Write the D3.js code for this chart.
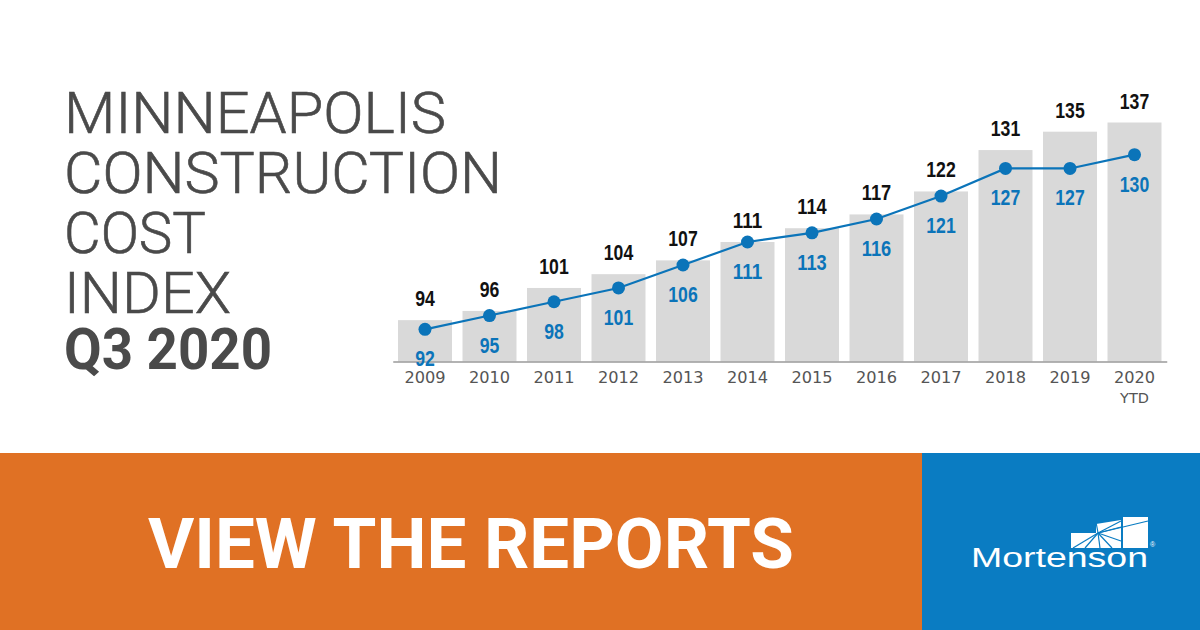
<!DOCTYPE html>
<html><head><meta charset="utf-8">
<script src="https://cdn.jsdelivr.net/npm/d3@7"></script>
<style>
html,body{margin:0;padding:0;background:#fff;}
svg{display:block;}
</style></head>
<body>
<svg id="c" width="1200" height="630"></svg>
<script>
// ---- data ----
const years = ["2009","2010","2011","2012","2013","2014","2015","2016","2017","2018","2019","2020"];
const yearNotes = ["","","","","","","","","","","","YTD"];
const barValues = [94,96,101,104,107,111,114,117,122,131,135,137];
const lineValues = [92,95,98,101,106,111,113,116,121,127,127,130];
const titleLines = ["MINNEAPOLIS","CONSTRUCTION","COST","INDEX"];
const subtitle = "Q3 2020";
const ctaText = "VIEW THE REPORTS";
const brand = "Mortenson";

const svg = d3.select("#c");
const TITLE = "#4a4a4a", BAR = "#d9d9d9", BLUE = "#0b74b9", ORANGE = "#e07124", BRAND_BLUE = "#0a7cc2";

// ---- title ----
const titleWidths = [382, 438, 142, 167];
const tg = svg.append("g");
titleLines.forEach((t,i)=>{
  tg.append("text").attr("x",64).attr("y",133+i*60)
    .attr("font-family","Roboto, 'Open Sans', sans-serif").attr("font-weight",300)
    .attr("font-size",58).attr("fill",TITLE).attr("stroke",TITLE).attr("stroke-width",0.6)
    .attr("textLength",titleWidths[i]).attr("lengthAdjust","spacingAndGlyphs")
    .text(t);
});
tg.append("text").attr("x",64).attr("y",369)
  .attr("font-family","Roboto, 'Open Sans', sans-serif").attr("font-weight",700)
  .attr("font-size",58).attr("fill",TITLE)
  .attr("textLength",208).attr("lengthAdjust","spacingAndGlyphs")
  .text(subtitle);

// ---- chart ----
const x = d3.scaleBand().domain(years).range([392.75,1166.75]).paddingInner(0.163).paddingOuter(0.0814);
const y = d3.scaleLinear().domain([85,137]).range([361.5,122.5]);
const cx = d => x(d) + x.bandwidth()/2;

const g = svg.append("g");
g.selectAll("rect.bar").data(years).join("rect").attr("class","bar")
  .attr("x",d=>x(d)).attr("width",x.bandwidth())
  .attr("y",(d,i)=>y(barValues[i])).attr("height",(d,i)=>y.range()[0]-y(barValues[i]))
  .attr("fill",BAR);

const axis = d3.axisBottom(x).tickSize(0).tickPadding(0);
const ax = g.append("g").attr("transform","translate(0,361.5)").call(axis);
ax.select(".domain").attr("stroke","#9a9a9a").attr("stroke-width",1.5);
ax.selectAll(".tick text").attr("font-family","'DejaVu Sans', Verdana, sans-serif")
  .attr("font-size",16.2).attr("fill","#555").attr("dy",null).attr("y",21.5)
  .each(function(d,i){
    if(yearNotes[i]){
      d3.select(this).append("tspan").attr("x",0).attr("dy",20).attr("font-size",14.5).text(yearNotes[i]);
    }
  });

const line = d3.line().x((d,i)=>cx(years[i])).y(d=>y(d));
g.append("path").datum(lineValues).attr("d",line).attr("fill","none")
  .attr("stroke",BLUE).attr("stroke-width",2.2);
g.selectAll("circle.pt").data(lineValues).join("circle").attr("class","pt")
  .attr("cx",(d,i)=>cx(years[i])).attr("cy",d=>y(d)).attr("r",6.5).attr("fill",BLUE);

const lblFont = "'Liberation Sans Narrow','Arial Narrow', 'Liberation Sans', Arial, sans-serif";
const lblLen = d => String(d).length * 9.8;
g.selectAll("text.bl").data(barValues).join("text").attr("class","bl")
  .attr("x",(d,i)=>cx(years[i]) - lblLen(d)/2).attr("y",d=>y(d)-14)
  .attr("font-family",lblFont).attr("font-weight",700)
  .attr("textLength",lblLen).attr("lengthAdjust","spacingAndGlyphs")
  .attr("font-size",22).attr("fill","#111").text(d=>d);
g.selectAll("text.ll").data(lineValues).join("text").attr("class","ll")
  .attr("x",(d,i)=>cx(years[i]) - lblLen(d)/2).attr("y",d=>y(d)+37)
  .attr("font-family",lblFont).attr("font-weight",700)
  .attr("textLength",lblLen).attr("lengthAdjust","spacingAndGlyphs")
  .attr("font-size",22).attr("fill",BLUE).text(d=>d);

// ---- banner ----
svg.append("rect").attr("x",0).attr("y",453).attr("width",922).attr("height",177).attr("fill",ORANGE);
svg.append("rect").attr("x",922).attr("y",453).attr("width",278).attr("height",177).attr("fill",BRAND_BLUE);
svg.append("text").attr("x",148).attr("y",568)
  .attr("font-family","Roboto, 'Open Sans', sans-serif").attr("font-weight",700)
  .attr("font-size",71).attr("fill","#fff")
  .attr("textLength",646).attr("lengthAdjust","spacingAndGlyphs").text(ctaText);

// ---- logo ----
const lg = svg.append("g");
lg.append("path").attr("fill","#fff")
  .attr("d","M1071,533 L1096,533 L1096,524 L1121,520 L1121,548 L1071,548 Z");
lg.append("rect").attr("x",1123).attr("y",517).attr("width",25).attr("height",31).attr("fill","#fff");
const ox=1098, oy=533;
[[1073,548],[1085,548],[1100,548],[1112,548],[1121,541],[1121,527],[1121,521],[1148,521],[1096,522]].forEach(p=>{
  lg.append("line").attr("x1",ox).attr("y1",oy).attr("x2",p[0]).attr("y2",p[1])
    .attr("stroke",BRAND_BLUE).attr("stroke-width",1.2);
});
lg.append("text").attr("x",971).attr("y",567)
  .attr("font-family","'Liberation Sans', Arial, sans-serif").attr("font-size",27).attr("fill","#fff")
  .attr("textLength",177).attr("lengthAdjust","spacingAndGlyphs").text(brand);
lg.append("text").attr("x",1150).attr("y",547).attr("font-family","'Liberation Sans', Arial, sans-serif")
  .attr("font-size",7).attr("fill","#fff").text("®");
</script>
</body></html>
